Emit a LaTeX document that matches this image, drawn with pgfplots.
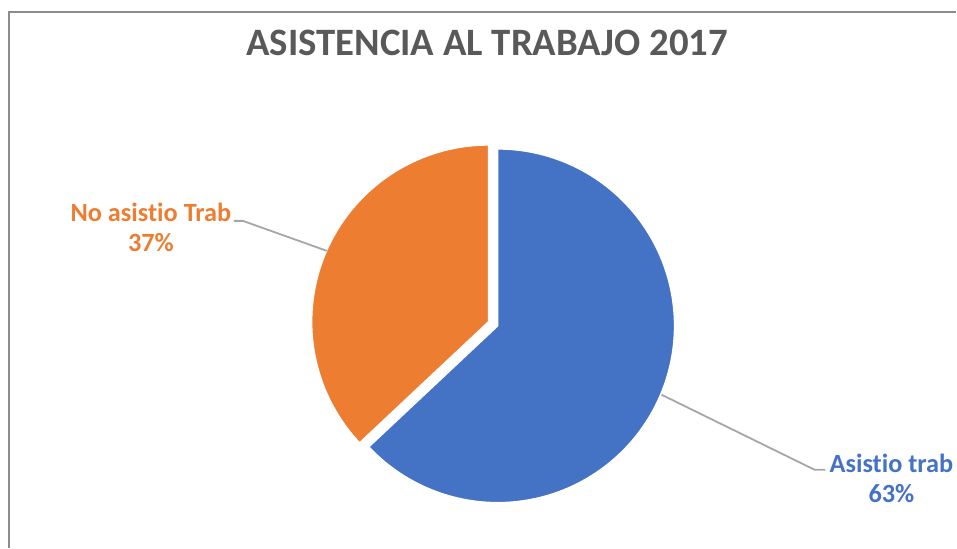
\documentclass[border=0pt]{standalone}
\usepackage{pgfplots}
\pgfplotsset{compat=1.18}
\usepackage{pgfplotstable}
\usepackage{fontspec}
\setmainfont{Carlito}[Ligatures={NoCommon}]
\definecolor{pieblue}{HTML}{4472C4}
\definecolor{pieorange}{HTML}{ED7D31}
\definecolor{titlegray}{HTML}{595959}
\definecolor{leadgray}{HTML}{A6A6A6}
\definecolor{framegray}{HTML}{8C8C8C}
\pgfplotstableread{
label value
Asistio 63
NoAsistio 37
}\piedata
\begin{document}
\begin{tikzpicture}
\pgfplotstablegetelem{0}{value}\of\piedata \let\valA\pgfplotsretval
\pgfplotstablegetelem{1}{value}\of\piedata \let\valB\pgfplotsretval
\pgfmathsetmacro\angA{90-3.6*\valA}
\pgfmathsetmacro\angB{\angA-3.6*\valB}
\pgfmathsetmacro\midB{(\angA+\angB)/2}
\pgfmathsetmacro\cxB{498+10*cos(\midB)}
\pgfmathsetmacro\cyB{222+10*sin(\midB)}
\begin{axis}[width=957pt,height=548pt,scale only axis,
  xmin=0,xmax=957,ymin=0,ymax=548,
  axis lines=none, ticks=none, clip=false]
\path (axis cs:0,0) rectangle (axis cs:957,548);
% blue slice
\addplot[fill=pieblue, draw=white, line width=1.5pt, domain=\angA:90, samples=150]
  ({498+177*cos(x)},{222+177*sin(x)}) -- (axis cs:498,222) -- cycle;
% orange slice (exploded)
\addplot[fill=pieorange, draw=white, line width=1.5pt, domain=\angB:\angA, samples=120]
  ({\cxB+177*cos(x)},{\cyB+177*sin(x)}) -- (axis cs:\cxB,\cyB) -- cycle;
% leader lines
\addplot[color=leadgray, line width=1.8pt] coordinates {(234,327) (243,327) (327,297)};
\addplot[color=leadgray, line width=1.8pt] coordinates {(662,153) (815,78) (826,78)};
% labels
\node[align=center, text=pieorange, font=\fontsize{26.3}{30}\selectfont\bfseries] at (axis cs:151,320) {No asistio Trab\\\valB\%};
\node[align=center, text=pieblue, font=\fontsize{26.3}{30}\selectfont\bfseries] at (axis cs:892,69.5) {Asistio trab\\\valA\%};
% title
\node[text=titlegray, font=\fontsize{38.8}{45}\selectfont\bfseries] at (axis cs:487.5,505) {ASISTENCIA AL TRABAJO 2017};
% frame (top and left edges)
\draw[framegray, line width=1.2pt] (axis cs:9,0) -- (axis cs:9,536) -- (axis cs:957,536);
\end{axis}
\end{tikzpicture}
\end{document}
